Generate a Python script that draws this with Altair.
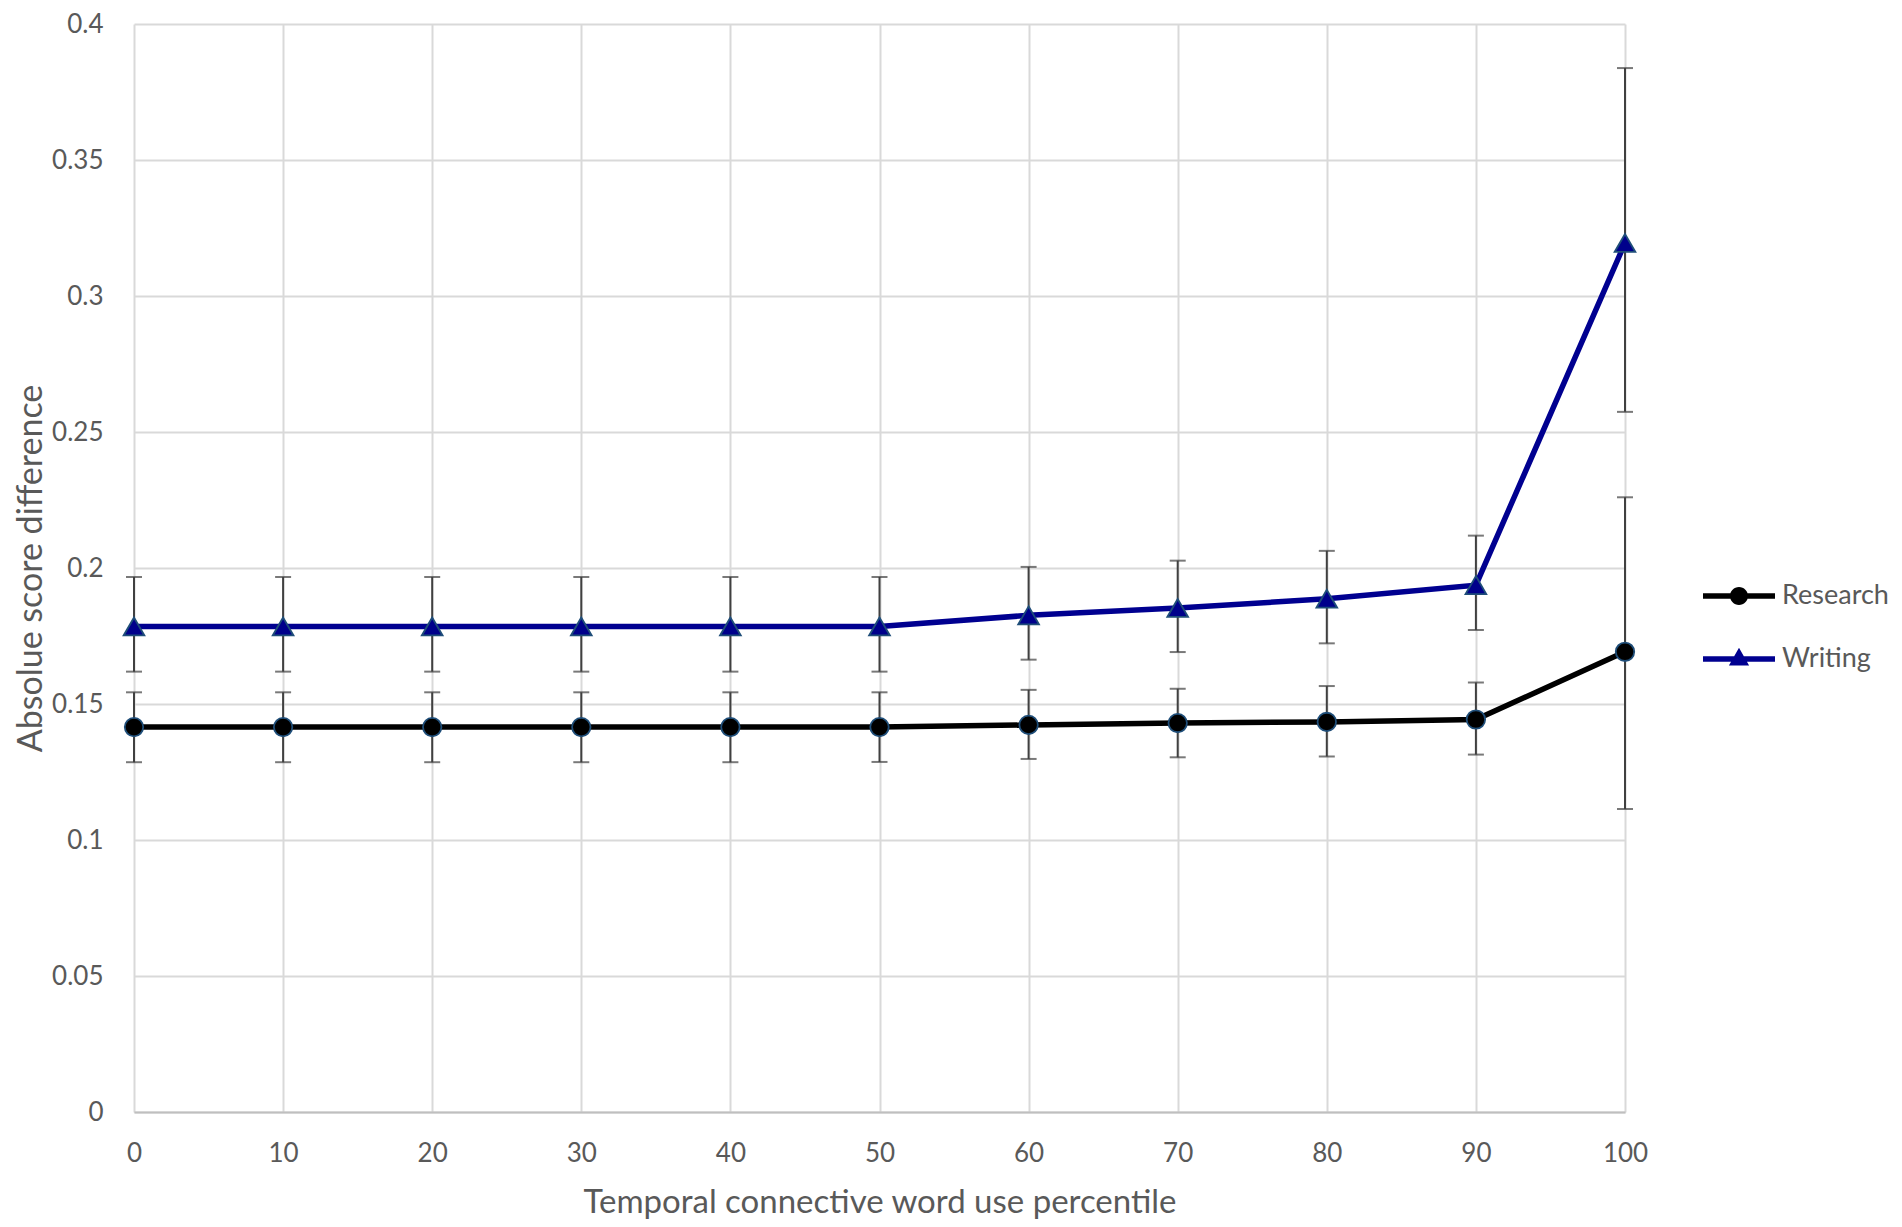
import altair as alt
import pandas as pd

# ---- data ----
percentiles = [0, 10, 20, 30, 40, 50, 60, 70, 80, 90, 100]
series_names = ["Research", "Writing"]

research = [0.1415, 0.1415, 0.1415, 0.1415, 0.1415, 0.1415, 0.1423, 0.1430, 0.1434, 0.1443, 0.1692]
research_hi = [0.1543, 0.1543, 0.1543, 0.1543, 0.1543, 0.1543, 0.1552, 0.1556, 0.1566, 0.1579, 0.2260]
research_lo = [0.1286, 0.1286, 0.1286, 0.1286, 0.1286, 0.1287, 0.1298, 0.1304, 0.1307, 0.1314, 0.1114]

writing = [0.1785, 0.1785, 0.1785, 0.1785, 0.1785, 0.1785, 0.1826, 0.1853, 0.1887, 0.1937, 0.3195]
writing_hi = [0.1967, 0.1967, 0.1967, 0.1967, 0.1967, 0.1967, 0.2004, 0.2027, 0.2063, 0.2119, 0.3838]
writing_lo = [0.1619, 0.1619, 0.1619, 0.1619, 0.1619, 0.1619, 0.1663, 0.1691, 0.1723, 0.1772, 0.2574]

y_ticks = [0, 0.05, 0.1, 0.15, 0.2, 0.25, 0.3, 0.35, 0.4]
x_ticks = percentiles

# ---- styling ----
FONT = "Lato"
TEXT = "#595959"
GRID = "#d9d9d9"
ERR = "#404040"
NAVY = "#000090"
MARKER_EDGE = "#1F4E79"

rows = []
for name, vals, his, los in [("Research", research, research_hi, research_lo),
                             ("Writing", writing, writing_hi, writing_lo)]:
    for p, v, h, l in zip(percentiles, vals, his, los):
        rows.append({"pct": p, "series": name, "value": v, "hi": h, "lo": l})
df = pd.DataFrame(rows)

x_enc = alt.X("pct:Q",
              scale=alt.Scale(domain=[0, 100], nice=False, zero=False),
              axis=alt.Axis(values=x_ticks, format="d",
                            title="Temporal connective word use percentile",
                            titleY=100, titleBaseline="alphabetic", titleFontSize=33))
y_scale = alt.Scale(domain=[0, 0.4], nice=False)
y_axis = alt.Axis(values=y_ticks, format=".2~f", title="Absolue score difference",
                  titleX=-93, titleY=544, titleBaseline="alphabetic", titleAngle=270,
                  titleFontSize=34)

base = alt.Chart(df)

legend_paths = [
    "M-1,-0.075L1,-0.075L1,0.075L-1,0.075Z M0.25,0A0.25,0.25,0,1,1,-0.25,0A0.25,0.25,0,1,1,0.25,0Z",
    "M-1,-0.075L1,-0.075L1,0.075L-1,0.075Z M0,-0.31L0.28,0.18L-0.28,0.18Z",
]
legend_layer = base.mark_point(filled=True, size=1, opacity=1).encode(
    x=x_enc,
    y=alt.Y("value:Q", scale=y_scale, axis=y_axis),
    shape=alt.Shape("series:N", scale=alt.Scale(domain=series_names, range=legend_paths),
                    legend=alt.Legend(title=None, orient="none", legendX=1569, legendY=536)),
    fill=alt.Fill("series:N", scale=alt.Scale(domain=series_names, range=["#000000", NAVY]),
                  legend=alt.Legend(title=None, orient="none", legendX=1569, legendY=536)),
)

rules = base.mark_rule(color=ERR, strokeWidth=2).encode(
    x="pct:Q", y="lo:Q", y2="hi:Q",
)
caps_hi = base.mark_tick(color=ERR, thickness=2, size=16, orient="horizontal").encode(
    x="pct:Q", y="hi:Q")
caps_lo = base.mark_tick(color=ERR, thickness=2, size=16, orient="horizontal").encode(
    x="pct:Q", y="lo:Q")

lines = base.mark_line(strokeWidth=5.5).encode(
    x="pct:Q",
    y="value:Q",
    color=alt.Color("series:N", scale=alt.Scale(domain=series_names, range=["#000000", NAVY]),
                    legend=None),
)

circles = base.transform_filter(alt.datum.series == "Research").mark_point(
    shape="circle", filled=True, fill="#000000", stroke=MARKER_EDGE, strokeWidth=1.8,
    size=340, opacity=1).encode(x="pct:Q", y="value:Q")
triangles = base.transform_filter(alt.datum.series == "Writing").mark_point(
    shape="triangle-up", filled=True, fill="#00008B", stroke=MARKER_EDGE, strokeWidth=1.8,
    size=430, opacity=1).encode(x="pct:Q", y="value:Q")

chart = alt.layer(legend_layer, rules, caps_hi, caps_lo, lines, circles, triangles).properties(
    width=1491,
    height=1088,
    autosize=alt.AutoSizeParams(type="none"),
    padding={"left": 126, "top": 16, "right": 268, "bottom": 107},
).configure_view(stroke=None).configure_axis(
    grid=True, gridColor=GRID, gridWidth=2,
    domain=False, ticks=False, tickSize=0, labelFlush=False,
    labelFont=FONT, labelFontSize=26, labelColor=TEXT,
    titleFont=FONT, titleFontWeight="normal", titleColor=TEXT,
).configure_axisX(
    domain=True, domainColor="#bfbfbf", domainWidth=2,
    labelPadding=49, labelBaseline="alphabetic",
).configure_axisY(
    labelPadding=31,
).configure_legend(
    symbolSize=5184, symbolStrokeWidth=0, labelFont=FONT, labelFontSize=27,
    labelColor=TEXT, labelOffset=7, rowPadding=14, symbolOffset=0,
)

chart.save("out.html", embed_options={"renderer": "svg", "actions": False})
